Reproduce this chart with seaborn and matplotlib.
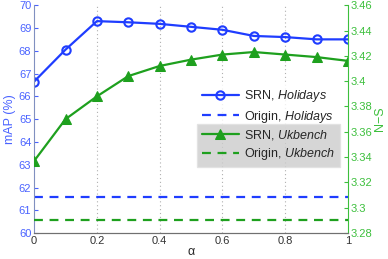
import matplotlib
matplotlib.use("Agg")
import matplotlib.pyplot as plt
import seaborn as sns
import numpy as np
import pandas as pd

# alpha values and scores
alpha = [0, 0.1, 0.2, 0.3, 0.4, 0.5, 0.6, 0.7, 0.8, 0.9, 1.0]
srn_holidays = [66.65, 68.05, 69.3, 69.25, 69.18, 69.05, 68.92, 68.65, 68.6, 68.5, 68.5]
srn_ukbench = [3.337, 3.370, 3.388, 3.404, 3.412, 3.417, 3.421, 3.423, 3.421, 3.419, 3.416]
origin_holidays = 61.58
origin_ukbench = 3.290

blue = '#1f3dff'
green = '#1ea01e'
blue_txt = '#4a63ff'
green_txt = '#3cbf3c'

sns.set_style('white')
plt.rcParams['font.family'] = ['Liberation Sans', 'DejaVu Sans']
plt.rcParams['mathtext.fontset'] = 'custom'
plt.rcParams['mathtext.rm'] = 'Liberation Sans'
plt.rcParams['mathtext.it'] = 'Liberation Sans:italic'

df = pd.DataFrame({'alpha': alpha, 'hol': srn_holidays, 'ukb': srn_ukbench})

fig, ax1 = plt.subplots(figsize=(3.88, 2.59), dpi=100)
fig.subplots_adjust(left=0.088, right=0.897, top=0.98, bottom=0.1)
ax2 = ax1.twinx()

for xv in [0.2, 0.4, 0.6, 0.8]:
    ax1.axvline(xv, color='#b0b0b0', lw=0.8, ls=(0, (1, 2.5)), zorder=0)

sns.lineplot(data=df, x='alpha', y='hol', ax=ax1, color=blue, lw=1.6,
             marker='o', markersize=6, markerfacecolor='none',
             markeredgecolor=blue, markeredgewidth=1.5, label='SRN, $\\it{Holidays}$')
ax1.axhline(origin_holidays, color=blue, lw=1.6, ls=(0, (4, 3)), label='Origin, $\\it{Holidays}$')

sns.lineplot(data=df, x='alpha', y='ukb', ax=ax2, color=green, lw=1.6,
             marker='^', markersize=7, markerfacecolor=green,
             markeredgecolor=green, label='SRN, $\\it{Ukbench}$')
ax2.axhline(origin_ukbench, color=green, lw=1.6, ls=(0, (4, 3)), label='Origin, $\\it{Ukbench}$')

ax1.set_xlim(0, 1)
ax1.set_ylim(60, 70)
ax2.set_ylim(3.28, 3.46)
ax1.set_xticks(np.arange(0, 1.01, 0.2))
ax1.set_xticklabels(['0', '0.2', '0.4', '0.6', '0.8', '1'])
ax1.set_yticks(range(60, 71))
ax2.set_yticks(np.round(np.arange(3.28, 3.461, 0.02), 2))
ax2.set_yticklabels([('%.2f' % v).rstrip('0').rstrip('.') for v in np.arange(3.28, 3.461, 0.02)])

ax1.tick_params(axis='y', direction='in', length=3, colors=blue_txt, labelsize=8, pad=2)
ax1.tick_params(axis='x', direction='in', length=3, labelsize=8, pad=2, colors='#333333')
ax2.tick_params(axis='y', direction='in', length=3, colors=green_txt, labelsize=8, pad=2)

ax1.set_xlabel('α', fontsize=9, labelpad=0)
ax1.set_ylabel('mAP (%)', color=blue_txt, fontsize=9, labelpad=2)
ax2.set_ylabel('N−S', color=green_txt, fontsize=9, labelpad=1)

for ax in (ax1, ax2):
    ax.spines['top'].set_visible(False)
    ax.spines['bottom'].set_color('#707070')
ax1.spines['left'].set_color('#8090c0')
ax1.spines['right'].set_visible(False)
ax2.spines['left'].set_visible(False)
ax2.spines['right'].set_color(green_txt)
ax1.grid(False)
ax2.grid(False)

leg_kw = dict(loc='upper left', frameon=True, fontsize=9, handlelength=3.0,
              borderpad=0.35, labelspacing=0.35, handletextpad=0.4, fancybox=False,
              borderaxespad=0)
leg1 = ax1.legend(bbox_to_anchor=(0.52, 0.655), **leg_kw)
leg1.get_frame().set_facecolor('white')
leg1.get_frame().set_edgecolor('white')
leg2 = ax2.legend(bbox_to_anchor=(0.52, 0.48), **leg_kw)
leg2.get_frame().set_facecolor('#cccccc')
leg2.get_frame().set_edgecolor('#e0e0e0')

fig.savefig('out.png', dpi=100)
